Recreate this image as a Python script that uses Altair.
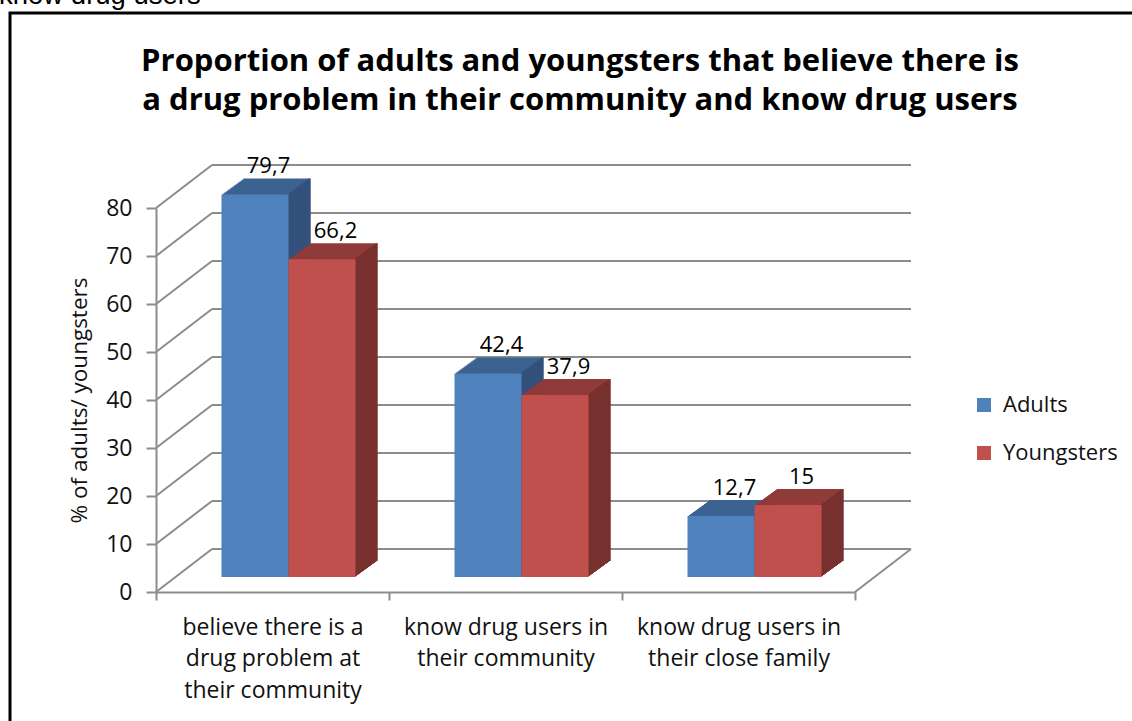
import json
import altair as alt
import pandas as pd

# ---------------- data ----------------
caption_tail = "know drug users"
title_lines = [
    "Proportion of adults and youngsters that believe there is",
    "a drug problem in their community and know drug users",
]
categories = [
    "believe there is a drug problem at their community",
    "know drug users in their community",
    "know drug users in their close family",
]
category_lines = [
    ["believe there is a", "drug problem at", "their community"],
    ["know drug users in", "their community"],
    ["know drug users in", "their close family"],
]
series = ["Adults", "Youngsters"]
adults = [79.7, 42.4, 12.7]
youngsters = [66.2, 37.9, 15]
y_ticks = [0, 10, 20, 30, 40, 50, 60, 70, 80]
y_title = "% of adults/ youngsters"

# ---------------- styles ----------------
front_colors = ["#4F81BD", "#C0504D"]
top_colors = ["#3C6292", "#8F3B39"]
side_colors = ["#33517B", "#77302E"]
GRID = "#8C8C8C"
FONT = "Open Sans"

W, H = 699, 384
PAD = {"left": 156, "top": 208, "right": 1132 - 156 - W, "bottom": 721 - 208 - H}
WALL_DX, WALL_DY = 56, -43        # back wall offset
BAR_W = 67
BAR_DX, BAR_DY = 16, -15          # bars sit in the middle depth
DEPTH_DX, DEPTH_DY = 22, -16      # bar depth
SERIES_SHIFT = [-BAR_W / 2, BAR_W / 2]
N = 16

rows = []
for c, a, yv in zip(categories, adults, youngsters):
    rows.append({"category": c, "series": series[0], "value": a})
    rows.append({"category": c, "series": series[1], "value": yv})
bars_df = pd.DataFrame(rows)
grid_df = pd.DataFrame({"value": y_ticks})
zero_df = pd.DataFrame({"value": [0]})
cap_df = pd.DataFrame({"t": [caption_tail]})
title_df = pd.DataFrame({"t": title_lines})

label_expr = " : ".join(
    f"datum.value == {json.dumps(c)} ? {json.dumps(l)}" for c, l in zip(categories, category_lines)
) + " : datum.value"

y_enc = alt.Y(
    "value:Q",
    scale=alt.Scale(domain=[0, 80], nice=False, zero=True),
    axis=alt.Axis(
        values=y_ticks, title=y_title, tickSize=10, labelPadding=14,
        titlePadding=14, titleFontWeight="normal", titleFontSize=22.5,
        titleFont=FONT, titleColor="#111", labelFontSize=23,
    ),
)
x_enc = alt.X(
    "category:N", sort=categories,
    scale=alt.Scale(paddingInner=0, paddingOuter=0),
    axis=alt.Axis(
        title=None, labelAngle=0, tickBand="extent", labelExpr=label_expr,
        labelLineHeight=31.5, labelPadding=16, labelFontSize=23, labelLimit=300,
    ),
)

layers = []

# back-wall gridlines
layers.append(
    alt.Chart(grid_df).mark_rule(
        color=GRID, strokeWidth=2, xOffset=WALL_DX, x2Offset=WALL_DX, yOffset=WALL_DY
    ).encode(x=alt.value(0), x2=alt.value(W), y=y_enc)
)
# left-wall diagonals
layers.append(
    alt.Chart(grid_df).mark_rule(
        color=GRID, strokeWidth=2, x2Offset=WALL_DX, y2Offset=WALL_DY
    ).encode(x=alt.value(0), x2=alt.value(0), y=y_enc, y2=alt.Y2("value:Q"))
)
# floor right edge
layers.append(
    alt.Chart(zero_df).mark_rule(
        color=GRID, strokeWidth=2, x2Offset=WALL_DX, y2Offset=WALL_DY
    ).encode(x=alt.value(W), x2=alt.value(W), y=y_enc, y2=alt.Y2("value:Q"))
)


def bar(s_idx, color, xo, yo, width=BAR_W, legend=False):
    kw = dict(xOffset=SERIES_SHIFT[s_idx] + xo, yOffset=yo, y2Offset=yo, width=width)
    enc = dict(x=x_enc, y=y_enc)
    if legend:
        enc["color"] = alt.Color(
            "series:N", sort=series,
            scale=alt.Scale(domain=series, range=front_colors),
            legend=alt.Legend(title=None),
        )
    else:
        kw["color"] = color
    return (
        alt.Chart(bars_df)
        .transform_filter(alt.datum.series == series[s_idx])
        .mark_bar(**kw)
        .encode(**enc)
    )


for s in range(2):
    # top face (whole prism silhouette)
    for i in range(1, N + 1):
        layers.append(bar(s, top_colors[s], BAR_DX + DEPTH_DX * i / N, BAR_DY + DEPTH_DY * i / N))
    # side face
    for i in range(0, N + 1):
        layers.append(
            bar(s, side_colors[s], BAR_DX + BAR_W / 2 - 1 + DEPTH_DX * i / N,
                BAR_DY + DEPTH_DY * i / N, width=2)
        )
    # front face
    layers.append(bar(s, front_colors[s], BAR_DX, BAR_DY, legend=True))

# value labels
for s in range(2):
    layers.append(
        alt.Chart(bars_df)
        .transform_filter(alt.datum.series == series[s])
        .transform_calculate(label="replace(toString(datum.value), '.', ',')")
        .mark_text(dx=SERIES_SHIFT[s] + BAR_DX + 13.5, dy=-43, font=FONT, fontSize=22,
                   color="black", baseline="middle")
        .encode(x=x_enc, y=y_enc, text="label:N")
    )

# chart title (two lines)
for k, base_y in enumerate([71, 110]):
    layers.append(
        alt.Chart(title_df.iloc[[k]]).mark_text(
            align="center", baseline="alphabetic", font=FONT, fontSize=31,
            fontWeight="bold", color="black",
        ).encode(x=alt.value(580 - PAD["left"]), y=alt.value(base_y - PAD["top"]), text="t:N")
    )

# frame and the cut caption above it
layers.append(
    alt.Chart(zero_df).mark_rect(fillOpacity=0, stroke="black", strokeWidth=3).encode(
        x=alt.value(10 - PAD["left"]), y=alt.value(13 - PAD["top"]),
        x2=alt.value(W + 400), y2=alt.value(H + 300),
    )
)
layers.append(
    alt.Chart(cap_df).mark_text(
        align="left", baseline="alphabetic", font="Liberation Sans", fontSize=27.5, color="black"
    ).encode(x=alt.value(-PAD["left"] - 1), y=alt.value(4 - PAD["top"]), text="t:N")
)

chart = (
    alt.layer(*layers)
    .properties(
        width=W, height=H, padding=PAD,
        autosize=alt.AutoSizeParams(type="none"),
    )
    .configure_view(stroke=None)
    .configure_axis(
        labelFont=FONT, labelColor="#111", domainColor=GRID,
        domainWidth=2, tickColor=GRID, tickWidth=2, tickSize=8, grid=False,
    )
    .configure_legend(
        orient="none", legendX=817, legendY=186, padding=0, symbolType="square",
        symbolSize=196, symbolStrokeWidth=0, labelFont=FONT, labelFontSize=22,
        labelColor="#111", labelOffset=8, rowPadding=26,
    )
)

chart.save("out.html", embed_options={"renderer": "svg", "actions": False})
